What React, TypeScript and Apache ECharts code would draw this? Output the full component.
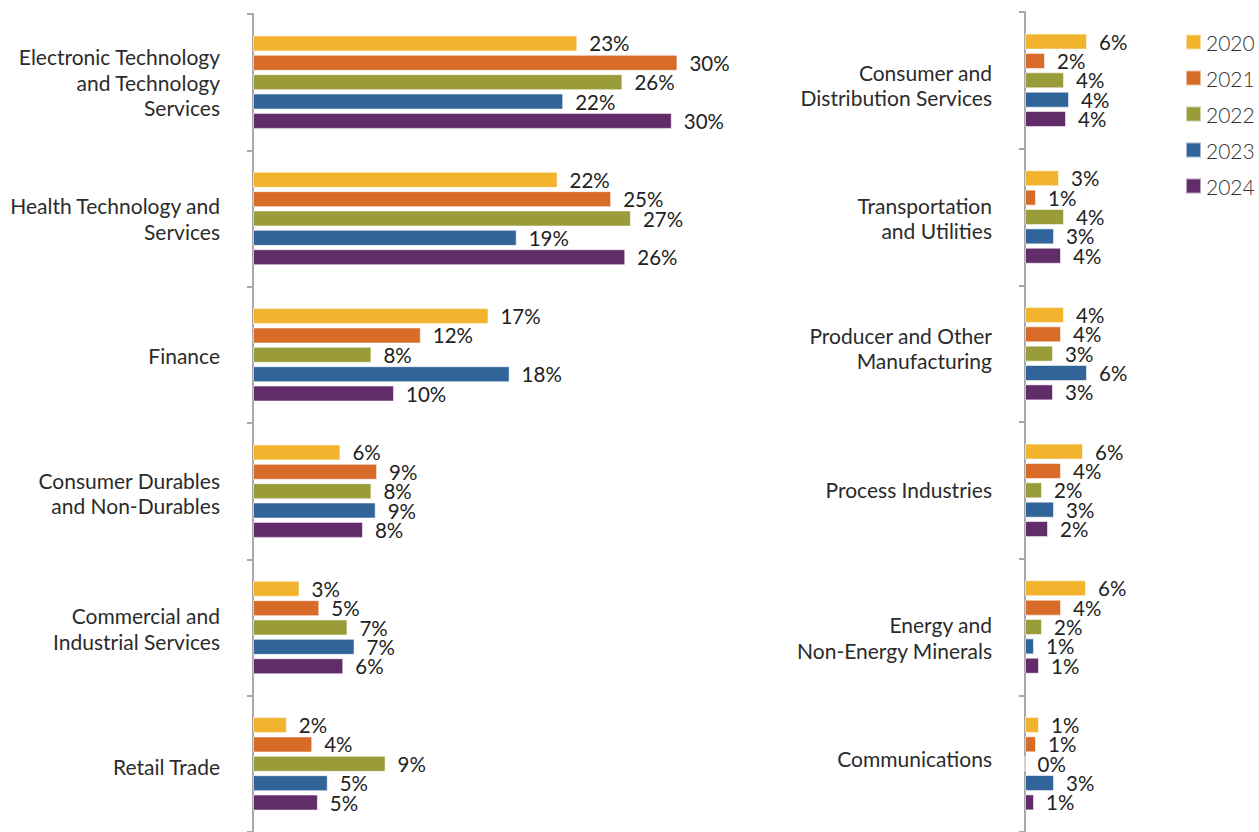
import React, { useEffect, useRef } from "react";
import * as echarts from "echarts";

const years = ["2020", "2021", "2022", "2023", "2024"];
const colors = ["#F2B32E", "#D86B27", "#9A9B39", "#31659A", "#622B6A"];

const leftCategories = [
  "Electronic Technology\nand Technology\nServices",
  "Health Technology and\nServices",
  "Finance",
  "Consumer Durables\nand Non-Durables",
  "Commercial and\nIndustrial Services",
  "Retail Trade",
];
const rightCategories = [
  "Consumer and\nDistribution Services",
  "Transportation\nand Utilities",
  "Producer and Other\nManufacturing",
  "Process Industries",
  "Energy and\nNon-Energy Minerals",
  "Communications",
];

const left2020 = [23.0, 21.6, 16.7, 6.2, 3.3, 2.4];
const left2021 = [30.1, 25.4, 11.9, 8.8, 4.7, 4.2];
const left2022 = [26.2, 26.8, 8.4, 8.4, 6.7, 9.4];
const left2023 = [22.0, 18.7, 18.2, 8.7, 7.2, 5.3];
const left2024 = [29.7, 26.4, 10.0, 7.8, 6.4, 4.6];

const right2020 = [6.2, 3.4, 3.9, 5.8, 6.1, 1.4];
const right2021 = [2.0, 1.1, 3.6, 3.6, 3.6, 1.1];
const right2022 = [3.9, 3.9, 2.8, 1.7, 1.7, 0];
const right2023 = [4.4, 2.9, 6.2, 2.9, 0.9, 2.9];
const right2024 = [4.1, 3.6, 2.8, 2.3, 1.4, 0.9];

const leftSeries = [left2020, left2021, left2022, left2023, left2024];
const rightSeries = [right2020, right2021, right2022, right2023, right2024];

// layout-only: vertical nudges (px) of the category labels
const leftLabelShift = [0, 0, 1, 1.5, 1, 3];
const rightLabelShift = [5, 1, -5.5, -1, 10.5, -5];

export default function App() {
  const ref = useRef<HTMLDivElement>(null);

  useEffect(() => {
    if (!ref.current) return;
    const chart = echarts.init(ref.current, null, { renderer: "svg" });

    const axisColor = "#A8A8A8";

    const yAxisBase = (gridIndex: number, data: string[], shifts: number[]) => {
      const rich: any = {
        t: {
          fontSize: 21,
          lineHeight: 25.3,
          color: "#2b2b2b",
          fontFamily: "Lato",
        },
      };
      shifts.forEach((d, i) => {
        const h = Math.max(1, Math.abs(d) * 2);
        rich["sp" + i] = { fontSize: 1, lineHeight: h, height: h };
      });
      return {
        type: "category",
        gridIndex,
        data,
        inverse: true,
        axisLine: { show: true, lineStyle: { color: axisColor, width: 2 } },
        axisTick: { show: true, length: 6, lineStyle: { color: axisColor, width: 2 } },
        axisLabel: {
          margin: 33,
          fontSize: 21,
          lineHeight: 25.3,
          color: "#2b2b2b",
          fontFamily: "Lato",
          align: "right",
          formatter: (value: string, index: number) => {
            const lines = value
              .split("\n")
              .map((l) => "{t|" + l + "}")
              .join("\n");
            const d = shifts[index] || 0;
            if (Math.abs(d) < 0.25) return lines;
            const sp = "{sp" + index + "| }";
            return d > 0 ? sp + "\n" + lines : lines + "\n" + sp;
          },
          rich,
        },
        splitLine: { show: false },
      };
    };

    const mkSeries = (gridIdx: number, arr: number[][]) =>
      arr.map((vals, i) => ({
        name: years[i],
        type: "bar",
        xAxisIndex: gridIdx,
        yAxisIndex: gridIdx,
        data: vals,
        barWidth: 16,
        barGap: "21%",
        itemStyle: {
          color: colors[i],
          borderColor: "rgba(255,255,255,0.55)",
          borderWidth: 1,
        },
        label: {
          show: true,
          position: "right",
          distance: 12,
          fontSize: 20.5,
          fontFamily: "Lato",
          color: "#222",
          formatter: (p: any) => Math.round(p.value) + "%",
        },
      }));

    chart.setOption({
      animation: false,
      textStyle: { fontFamily: "Lato" },
      legend: {
        orient: "vertical",
        left: 1185,
        top: 31.5,
        padding: 0,
        itemWidth: 15,
        itemHeight: 15,
        itemGap: 15,
        icon: "rect",
        data: years,
        textStyle: {
          fontSize: 21,
          color: "#333",
          fontFamily: "Lato",
          fontWeight: 300,
        },
      },
      grid: [
        { left: 253, top: 14, width: 35 * 14.1, height: 823, containLabel: false },
        { left: 1025, top: 12, width: 100, height: 823, containLabel: false },
      ],
      xAxis: [
        { type: "value", gridIndex: 0, min: 0, max: 35, show: false },
        { type: "value", gridIndex: 1, min: 0, max: 10, show: false },
      ],
      yAxis: [
        yAxisBase(0, leftCategories, leftLabelShift),
        yAxisBase(1, rightCategories, rightLabelShift),
      ],
      series: [...mkSeries(0, leftSeries), ...mkSeries(1, rightSeries)],
    });

    return () => chart.dispose();
  }, []);

  return (
    <div
      ref={ref}
      style={{ position: "absolute", left: 0, top: 0, width: 1259, height: 832, background: "#fff" }}
    />
  );
}
